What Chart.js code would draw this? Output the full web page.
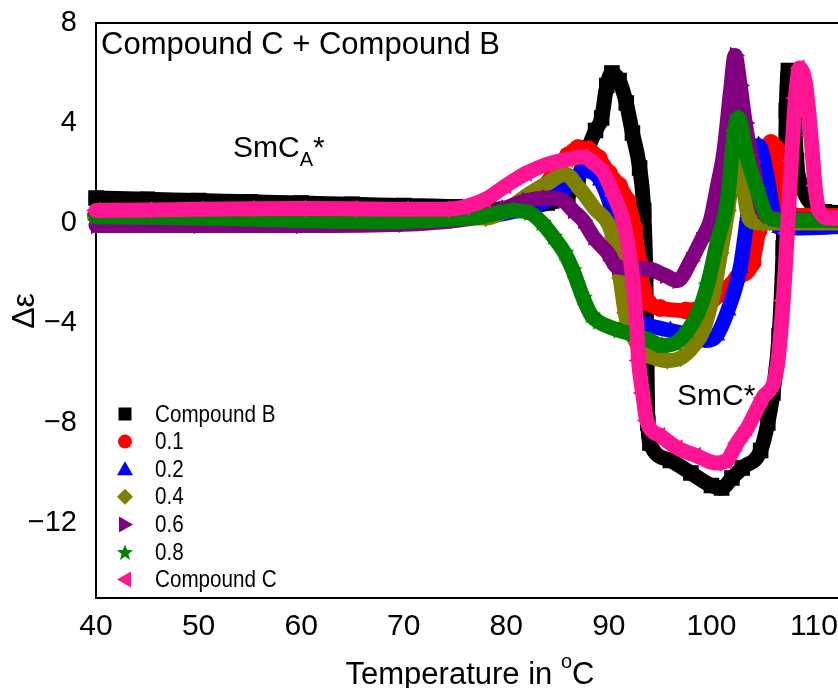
<!DOCTYPE html>
<html>
<head>
<meta charset="utf-8">
<script src="https://cdn.jsdelivr.net/npm/chart.js@4.4.1/dist/chart.umd.min.js"></script>
<style>
  html, body { margin: 0; padding: 0; background: #fff; overflow: hidden; }
  #wrap { width: 838px; height: 688px; overflow: hidden; }
  canvas { display: block; }
</style>
</head>
<body>
<div id="wrap"><canvas id="chart" width="866" height="688"></canvas></div>
<script>
  // Dielectric anisotropy vs temperature for the C + B mixtures
  const tempB = [40, 45, 50, 55, 60, 65, 70, 75, 80, 82, 84, 86, 87, 88, 88.7, 89.3, 89.8, 90.3, 91, 91.7, 92.3, 93, 93.4, 93.6, 93.7, 93.8, 94, 96, 98, 100, 101, 102, 103, 104.8, 105.5, 106, 106.6, 107, 107.2, 107.3, 107.5, 107.9, 108.3, 108.8, 110, 111, 115];
  const epsB = [1.0, 0.95, 0.9, 0.85, 0.8, 0.75, 0.7, 0.65, 0.55, 0.6, 0.8, 1.1, 1.8, 3.0, 3.7, 4.2, 5.5, 6.0, 5.7, 4.8, 3.6, 2.2, 0.5, -2, -5, -8, -8.8, -9.5, -10, -10.5, -10.6, -10.2, -9.8, -9.1, -8, -6.8, -4.5, -1, 2, 4.5, 6.1, 6.0, 2.5, 1.5, 0.64, 0.45, 0.4];

  const temp01 = [40, 50, 60, 70, 78, 80, 82, 83.5, 85, 86, 87, 88, 89, 90, 91, 91.8, 92.5, 93, 93.4, 93.9, 95, 97.5, 99.5, 101, 102.5, 104, 104.6, 105.3, 105.8, 106.3, 106.7, 107, 108, 115];
  const eps01 = [0.3, 0.3, 0.3, 0.3, 0.35, 0.55, 0.95, 1.4, 2.2, 2.7, 3.0, 2.95, 2.6, 2.0, 1.5, 0.9, -0.2, -1.6, -2.7, -3.2, -3.4, -3.5, -3.3, -2.8, -2.2, -1.6, -0.3, 1.5, 3.2, 3.0, 1.9, 0.7, 0.3, 0.3];

  const temp02 = [40, 50, 60, 70, 78, 80, 82, 84, 86, 87.7, 89.2, 90.4, 91.4, 92.1, 92.6, 94, 96, 98, 99.5, 100.5, 101.6, 102.8, 103.5, 104, 104.6, 105.5, 106, 106.7, 108, 115];
  const eps02 = [0.3, 0.3, 0.3, 0.3, 0.3, 0.4, 0.6, 0.9, 1.45, 2.1, 1.7, 0.4, -1.2, -3.2, -3.8, -4.1, -4.3, -4.5, -4.7, -4.5, -3.5, -1.8, 0.2, 1.8, 3.1, 1.7, 0.5, -0.2, -0.2, -0.1];

  const temp04 = [40, 50, 60, 70, 78, 80, 82, 84, 85.8, 87, 88.5, 90.4, 91.1, 91.6, 92.1, 93.4, 94.5, 95.7, 97, 98.3, 99.2, 100.2, 100.9, 101.6, 102.2, 102.6, 103.1, 103.8, 105, 115];
  const eps04 = [0.2, 0.2, 0.2, 0.2, 0.2, 0.5, 1.1, 1.6, 1.95, 1.45, 0.64, -0.56, -2.2, -3.6, -4.3, -5.2, -5.4, -5.5, -5.4, -4.9, -4.3, -2.8, -1.2, 0.5, 2.5, 3.6, 1.5, 0.1, 0, 0];

  const temp06 = [40, 50, 60, 70, 75, 78, 80, 82, 84, 85.5, 86.5, 87.5, 88.5, 89.9, 90.8, 92, 94, 95.5, 96.7, 98, 99, 99.9, 100.6, 101.2, 101.9, 102.3, 102.8, 103.3, 104, 105, 106, 115];
  const eps06 = [-0.1, -0.1, -0.1, -0.05, 0.1, 0.3, 0.6, 0.9, 1.0, 0.9, 0.5, 0.1, -0.56, -1.2, -1.75, -1.8, -1.85, -2.1, -2.3, -1.5, -0.7, 0.1, 1.5, 2.8, 5.4, 6.7, 5.5, 4.0, 2.4, 0.5, 0.2, 0.1];

  const temp08 = [40, 50, 60, 67.7, 72, 77.5, 80.7, 82.3, 83.5, 84.6, 85.7, 86.5, 87.5, 88.3, 89, 91, 92.8, 94, 95.2, 96.5, 97.7, 98.8, 99.6, 100.6, 101.6, 102.2, 102.6, 103.5, 104.5, 105.5, 107, 115];
  const eps08 = [0.25, 0.2, 0.1, 0.05, 0.1, 0.25, 0.5, 0.4, 0.0, -0.56, -1.2, -1.9, -3.0, -3.7, -3.95, -4.3, -4.5, -4.7, -4.9, -4.8, -4.3, -3.5, -2.5, -0.7, 1.0, 3.6, 4.2, 2.6, 1.3, 0.25, 0.1, 0.1];

  const tempC = [40, 45, 50, 55, 60, 65, 70, 74, 76, 78, 80, 82, 84, 86, 87.5, 88.5, 89.5, 90.5, 91.4, 92, 92.4, 92.7, 92.9, 93.3, 93.7, 95, 96.7, 98.5, 100.5, 101.5, 102.5, 103.5, 105, 106.4, 107, 107.4, 107.8, 108.2, 108.6, 109.2, 109.7, 110.1, 110.5, 111.5, 115];
  const epsC = [0.5, 0.52, 0.55, 0.57, 0.58, 0.57, 0.55, 0.55, 0.65, 0.95, 1.5, 2.0, 2.35, 2.55, 2.65, 2.4, 2.0, 1.1, 0.1, -1.2, -2.5, -4, -5.5, -6.8, -7.9, -8.5, -9.0, -9.3, -9.6, -9.5, -8.8, -8.2, -7, -5.8, -3.1, -0.4, 2.5, 5, 6.2, 5.5, 3.5, 1.5, 0.5, 0.2, 0.2];

  const xTicks = [40, 50, 60, 70, 80, 90, 100, 110];
  const yTicks = [-12, -8, -4, 0, 4, 8];

  const FONT = '"Liberation Sans", Arial, sans-serif';

  function starPath(g, cx, cy, r, inner) {
    g.beginPath();
    for (let k = 0; k < 10; k++) {
      const rr = k % 2 ? inner : r;
      const a = -Math.PI / 2 + (k * Math.PI) / 5;
      const px = cx + Math.cos(a) * rr;
      const py = cy + Math.sin(a) * rr;
      if (k === 0) g.moveTo(px, py); else g.lineTo(px, py);
    }
    g.closePath();
  }

  function starImage(color, r) {
    const c = document.createElement('canvas');
    c.width = c.height = 2 * r + 2;
    const g = c.getContext('2d');
    starPath(g, r + 1, r + 1, r, r * 0.45);
    g.fillStyle = color;
    g.fill();
    return c;
  }

  const series = [
    { label: 'Compound B', t: tempB, e: epsB, color: '#000000', marker: 'square' },
    { label: '0.1', t: temp01, e: eps01, color: '#ff0000', marker: 'circle' },
    { label: '0.2', t: temp02, e: eps02, color: '#0000ff', marker: 'up' },
    { label: '0.4', t: temp04, e: eps04, color: '#808000', marker: 'diamond' },
    { label: '0.6', t: temp06, e: eps06, color: '#800080', marker: 'right' },
    { label: '0.8', t: temp08, e: eps08, color: '#008000', marker: 'star' },
    { label: 'Compound C', t: tempC, e: epsC, color: '#ff1493', marker: 'left' },
  ];

  function pointOpts(s) {
    switch (s.marker) {
      case 'square': return { pointStyle: 'rect', pointRadius: 11, pointRotation: 0 };
      case 'circle': return { pointStyle: 'circle', pointRadius: 9, pointRotation: 0 };
      case 'up': return { pointStyle: 'triangle', pointRadius: 10, pointRotation: 0 };
      case 'diamond': return { pointStyle: 'rectRot', pointRadius: 9, pointRotation: 0 };
      case 'right': return { pointStyle: 'triangle', pointRadius: 10, pointRotation: 90 };
      case 'star': return { pointStyle: starImage(s.color, 10), pointRadius: 10, pointRotation: 0 };
      case 'left': return { pointStyle: 'triangle', pointRadius: 10, pointRotation: -90 };
    }
    return {};
  }

  // legend marker, drawn by hand so it can sit inside the plot box
  function drawMarker(ctx, kind, x, y, color) {
    ctx.save();
    ctx.fillStyle = color;
    ctx.beginPath();
    if (kind === 'square') {
      ctx.rect(x - 6.5, y - 6.5, 13, 13);
    } else if (kind === 'circle') {
      ctx.arc(x, y, 7, 0, Math.PI * 2);
    } else if (kind === 'up') {
      ctx.moveTo(x, y - 8); ctx.lineTo(x + 8, y + 6); ctx.lineTo(x - 8, y + 6);
    } else if (kind === 'diamond') {
      ctx.moveTo(x, y - 8); ctx.lineTo(x + 8, y); ctx.lineTo(x, y + 8); ctx.lineTo(x - 8, y);
    } else if (kind === 'right') {
      ctx.moveTo(x + 8, y); ctx.lineTo(x - 6, y - 8); ctx.lineTo(x - 6, y + 8);
    } else if (kind === 'left') {
      ctx.moveTo(x - 8, y); ctx.lineTo(x + 6, y - 8); ctx.lineTo(x + 6, y + 8);
    } else if (kind === 'star') {
      starPath(ctx, x, y + 1, 8.5, 3.6);
    }
    ctx.closePath();
    ctx.fill();
    ctx.restore();
  }

  const frame = {
    id: 'frame',
    beforeDatasetsDraw(chart) {
      const { ctx, chartArea: a } = chart;
      ctx.save();
      ctx.strokeStyle = '#000';
      ctx.lineWidth = 2;
      ctx.strokeRect(a.left, a.top, a.right - a.left, a.bottom - a.top);
      ctx.restore();
    },
  };

  const labels = {
    id: 'labels',
    afterDatasetsDraw(chart) {
      const { ctx } = chart;
      ctx.save();
      ctx.fillStyle = '#000';
      ctx.textAlign = 'left';
      ctx.textBaseline = 'alphabetic';

      ctx.font = `31px ${FONT}`;
      ctx.fillText('Compound C + Compound B', 101, 54);

      // SmC_A* phase label
      let x = 233;
      ctx.font = `30px ${FONT}`;
      ctx.fillText('SmC', x, 157);
      x += ctx.measureText('SmC').width;
      ctx.font = `20px ${FONT}`;
      ctx.fillText('A', x, 166);
      x += ctx.measureText('A').width;
      ctx.font = `30px ${FONT}`;
      ctx.fillText('*', x, 157);

      ctx.fillText('SmC*', 677, 405);

      // legend: tall, slightly condensed lettering
      ctx.textBaseline = 'middle';
      series.forEach((s, i) => {
        const y = 414 + i * 27.6;
        drawMarker(ctx, s.marker, 125, y, s.color);
        ctx.save();
        ctx.translate(155, y + 1);
        ctx.scale(0.86, 1);
        ctx.font = `24px ${FONT}`;
        ctx.fillText(s.label, 0, 0);
        ctx.restore();
      });

      // x-axis title with superscript degree
      ctx.textBaseline = 'alphabetic';
      ctx.font = `31px ${FONT}`;
      const part1 = 'Temperature in ';
      const w1 = ctx.measureText(part1).width;
      ctx.font = `20px ${FONT}`;
      const wo = ctx.measureText('o').width;
      ctx.font = `31px ${FONT}`;
      const wc = ctx.measureText('C').width;
      let tx = 470 - (w1 + wo + wc) / 2;
      ctx.fillText(part1, tx, 684);
      tx += w1;
      ctx.font = `20px ${FONT}`;
      ctx.fillText('o', tx, 668);
      tx += wo;
      ctx.font = `31px ${FONT}`;
      ctx.fillText('C', tx, 684);

      // y-axis title
      ctx.translate(25, 311);
      ctx.rotate(-Math.PI / 2);
      ctx.textAlign = 'center';
      ctx.textBaseline = 'middle';
      ctx.font = `32px ${FONT}`;
      ctx.fillText('\u0394\u03b5', 0, 0);
      ctx.restore();
    },
  };

  new Chart(document.getElementById('chart'), {
    type: 'line',
    data: {
      datasets: series.map((s, i) => Object.assign({
        label: s.label,
        data: s.t.map((t, k) => ({ x: t, y: s.e[k] })),
        borderColor: s.color,
        backgroundColor: s.color,
        pointBackgroundColor: s.color,
        pointBorderWidth: 0,
        borderWidth: 15,
        borderJoinStyle: 'round',
        borderCapStyle: 'round',
        cubicInterpolationMode: 'monotone',
        clip: false,
        order: series.length - i,
      }, pointOpts(s))),
    },
    options: {
      responsive: false,
      animation: false,
      events: [],
      layout: { padding: { top: 23, right: 0, bottom: 0, left: 0 } },
      plugins: { legend: { display: false }, tooltip: { enabled: false } },
      scales: {
        x: {
          type: 'linear',
          min: 40,
          max: 114,
          grid: { display: false, drawTicks: false },
          border: { display: false },
          afterFit: (scale) => {
            scale.height = 90;
            scale.paddingLeft = 0;
            scale.paddingRight = 0;
          },
          afterBuildTicks: (scale) => { scale.ticks = xTicks.map((v) => ({ value: v })); },
          ticks: { color: '#000', padding: 11, font: { family: FONT, size: 30 }, maxRotation: 0 },
        },
        y: {
          type: 'linear',
          min: -15,
          max: 8,
          grid: { display: false, drawTicks: false },
          border: { display: false },
          afterFit: (scale) => {
            scale.width = 96;
            scale.paddingTop = 0;
            scale.paddingBottom = 0;
          },
          afterBuildTicks: (scale) => { scale.ticks = yTicks.map((v) => ({ value: v })); },
          ticks: {
            color: '#000',
            padding: 19,
            font: { family: FONT, size: 29 },
            callback: (v) => String(v).replace('-', '\u2212'),
          },
        },
      },
    },
    plugins: [frame, labels],
  });
</script>
</body>
</html>
